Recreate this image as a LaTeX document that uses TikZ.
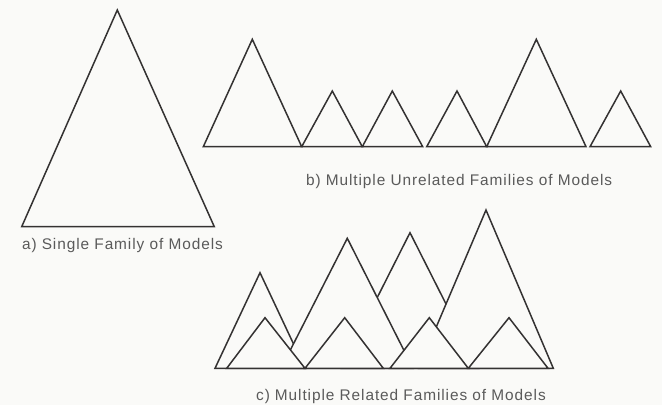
\documentclass[tikz,border=0pt]{standalone}
\usepackage{fontspec}
\setmainfont{Liberation Sans}
\newfontfamily\capfont[LetterSpace=6]{Liberation Sans}
\definecolor{cLine}{RGB}{52,50,50}
\definecolor{cText}{RGB}{90,90,90}
\definecolor{cPaper}{RGB}{250,250,248}
\tikzset{
	fam/.style={draw=cLine, line width=1.5pt, fill=cPaper, line join=miter},
	caption/.style={anchor=base west, inner sep=0pt, text=cText, font=\capfont\fontsize{15.4}{17}\selectfont},
}

\begin{document}
\begin{tikzpicture}[x=1pt, y=-1pt]
	\fill[cPaper] (0,0) rectangle (662,405);
	\useasboundingbox (0,0) rectangle (662,405);
	% a) one family
	\draw[fam] (21.7,226.7) -- (117.3,10) -- (214.3,226.7) -- cycle;
	\node[caption] (capA) at (22,249) {a)\hspace{5pt}Single Family of Models};
	% b) unrelated families, left/apex/right/top
	\foreach \l/\t/\r/\h in {203.3/252.3/301.7/39.3, 301.7/332.3/362.3/91, 362.3/392.3/422.7/91,
		426.7/457/486.7/91, 486.7/536.3/586/39.3, 590/620.7/650.7/91}
		\draw[fam] (\l,146.7) -- (\t,\h) -- (\r,146.7) -- cycle;
	\node[caption] (capB) at (306,185) {b)\hspace{5pt}Multiple Unrelated Families of Models};
	% c) related families: big ones behind, small ones in front
	\foreach \l/\t/\r/\h in {215/260/305/272.7, 341.5/410/478.5/232.7, 281/347.3/413/238.3,
		418.7/486/553.3/210, 226.7/265/305/317.7, 305/344.7/383.3/317.7,
		390/429.3/468.3/317.7, 468.3/509/548/317.7}
		\draw[fam] (\l,368.3) -- (\t,\h) -- (\r,368.3) -- cycle;
	\node[caption] (capC) at (256,400) {c)\hspace{5pt}Multiple Related Families of Models};
\end{tikzpicture}
\end{document}
